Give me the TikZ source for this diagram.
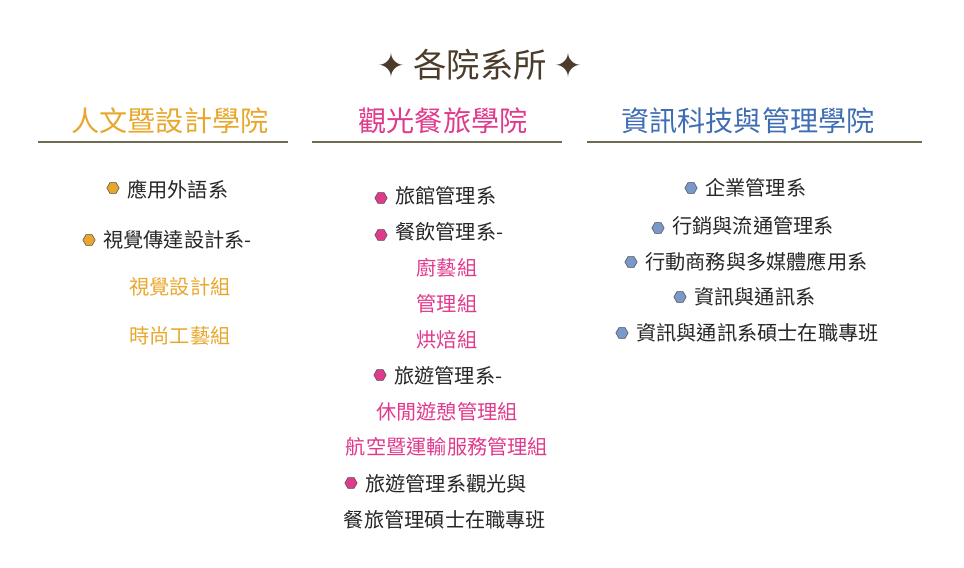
\documentclass[tikz,border=0pt]{standalone}
\usepackage{fontspec}
\setmainfont{Noto Sans CJK TC}
\newfontfamily\symfont{DejaVu Sans}
\usetikzlibrary{shapes.geometric}
\definecolor{titlebrown}{HTML}{4A3B2A}
\definecolor{artorange}{HTML}{E8A72C}
\definecolor{tourpink}{HTML}{E03A8C}
\definecolor{infoblue}{HTML}{3F6DB3}
\definecolor{ruleolive}{HTML}{6E6B52}
\tikzset{
  head/.style={font=\fontsize{16}{18}\selectfont},
  item/.style={anchor=west,font=\fontsize{11.5}{13}\selectfont,text=black!85},
  sub/.style={font=\fontsize{11.5}{13}\selectfont},
  hexa/.style={regular polygon,regular polygon sides=6,minimum size=7pt,inner sep=0pt,fill=#1,draw=black!70,line width=0.3pt},
  headrule/.style={ruleolive,line width=1.2pt}
}
\begin{document}
\begin{tikzpicture}[x=0.02cm,y=-0.02cm]
\useasboundingbox (0,0) rectangle (964,568);
% title
\node[text=titlebrown,font=\fontsize{19}{22}\selectfont] (title) at (480,65) {{\symfont ✦} 各院系所 {\symfont ✦}};
% headers
\node[head,text=artorange] (art) at (170,121) {人文暨設計學院};
\node[head,text=tourpink] (tour) at (443,121) {觀光餐旅學院};
\node[head,text=infoblue] (info) at (748,121) {資訊科技與管理學院};
\draw[headrule] (38,142) -- (288,142);
\draw[headrule] (312,142) -- (562,142);
\draw[headrule] (587,142) -- (922,142);
% column 1
\node[hexa=artorange] (b11) at (113,188) {};
\node[item] (a1) at (121,190) {應用外語系};
\node[hexa=artorange] (b12) at (89,240) {};
\node[item] (a2) at (97,240) {視覺傳達設計系-};
\node[sub,text=artorange] (a3) at (180,287) {視覺設計組};
\node[sub,text=artorange] (a4) at (180,336) {時尚工藝組};
% column 2
\node[hexa=tourpink] (b21) at (381,198) {};
\node[item] (t1) at (389,196) {旅館管理系};
\node[hexa=tourpink] (b22) at (381,235) {};
\node[item] (t2) at (389,232) {餐飲管理系-};
\node[sub,text=tourpink] (t3) at (447,268) {廚藝組};
\node[sub,text=tourpink] (t4) at (447,304) {管理組};
\node[sub,text=tourpink] (t5) at (447,340) {烘焙組};
\node[hexa=tourpink] (b23) at (380,375) {};
\node[item] (t6) at (388,376) {旅遊管理系-};
\node[sub,text=tourpink] (t7) at (447,412) {休閒遊憩管理組};
\node[sub,text=tourpink] (t8) at (447,447) {航空暨運輸服務管理組};
\node[hexa=tourpink] (b24) at (351,483) {};
\node[item] (t9) at (359,484) {旅遊管理系觀光與};
\node[sub,text=black!85] (t10) at (445,520) {餐旅管理碩士在職專班};
% column 3
\node[hexa=infoblue!70] (b31) at (691,188) {};
\node[item] (i1) at (699,188) {企業管理系};
\node[hexa=infoblue!70] (b32) at (658,228) {};
\node[item] (i2) at (666,226) {行銷與流通管理系};
\node[hexa=infoblue!70] (b33) at (631,262) {};
\node[item] (i3) at (639,262) {行動商務與多媒體應用系};
\node[hexa=infoblue!70] (b34) at (680,297) {};
\node[item] (i4) at (688,297) {資訊與通訊系};
\node[hexa=infoblue!70] (b35) at (622,333) {};
\node[item] (i5) at (630,333) {資訊與通訊系碩士在職專班};
\end{tikzpicture}
\end{document}
